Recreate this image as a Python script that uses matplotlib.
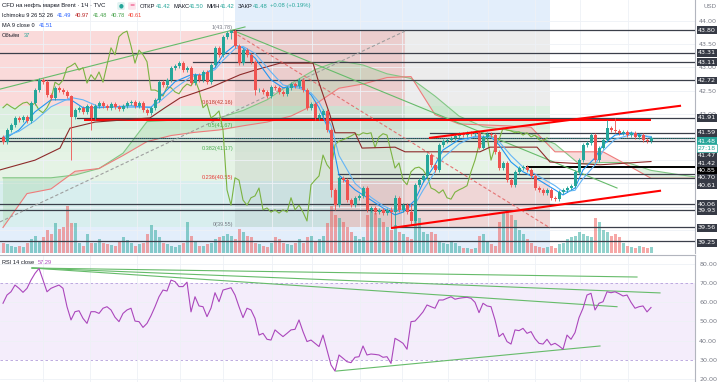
import numpy as np
import matplotlib.pyplot as plt
from matplotlib.patches import Rectangle

plt.rcParams['font.family'] = ['Liberation Sans', 'DejaVu Sans']

# ---- candles (1h), one close per bar, open = previous close
first_open = 41.50
closes = [41.39, 41.65, 41.76, 41.91, 41.87, 41.93, 41.85, 42.23, 42.51, 42.73,
          42.68, 42.41, 42.34, 42.56, 42.51, 42.47, 42.38, 41.93, 42.08, 42.13,
          42.04, 42.17, 41.91, 42.17, 42.23, 42.17, 42.13, 42.21, 42.15, 42.10,
          42.17, 42.23, 42.25, 42.17, 42.23, 42.08, 42.02, 42.13, 42.30, 42.68,
          42.62, 42.73, 42.99, 43.03, 43.09, 42.94, 42.99, 42.66, 42.84, 42.73,
          42.90, 42.68, 43.05, 43.42, 43.27, 43.66, 43.74, 43.78, 43.46, 43.09,
          43.37, 43.27, 43.12, 42.51, 42.51, 42.47, 42.38, 42.58, 42.56, 42.47,
          42.43, 42.56, 42.64, 42.60, 42.73, 42.51, 42.13, 42.21, 41.91, 41.97,
          42.06, 41.65, 40.36, 40.03, 40.62, 40.57, 40.14, 40.03, 40.19, 40.23,
          40.40, 39.93, 39.97, 39.88, 39.93, 39.86, 39.93, 39.88, 40.19, 39.93,
          40.03, 39.88, 39.69, 40.47, 40.57, 40.66, 41.11, 40.90, 40.79, 41.33,
          41.41, 41.44, 41.48, 41.52, 41.57, 41.54, 41.59, 41.57, 41.59, 41.27,
          41.50, 41.57, 41.54, 41.18, 40.83, 40.94, 40.57, 40.47, 40.75, 40.83,
          40.85, 40.79, 40.66, 40.40, 40.36, 40.29, 40.36, 40.19, 40.16, 40.31,
          40.36, 40.40, 40.45, 40.75, 41.00, 41.33, 41.37, 41.54, 41.00, 41.27,
          41.44, 41.69, 41.65, 41.63, 41.59, 41.61, 41.54, 41.59, 41.50, 41.54,
          41.44, 41.41, 41.48]
# bars with long shadows: index -> (high, low)
long_wicks = {17: (42.40, 41.00), 22: (42.20, 41.65), 57: (43.80, 43.60),
              63: (43.15, 42.40), 82: (41.70, 40.20), 83: (40.40, 39.93),
              97: (40.00, 39.55), 98: (40.25, 39.56), 102: (40.05, 39.60),
              151: (41.87, 41.40), 153: (41.91, 41.58)}

volumes = [60, 50, 40, 35, 40, 35, 55, 80, 100, 70,
           90, 130, 110, 170, 140, 150, 270, 170, 170, 60,
           40, 110, 55, 60, 80, 60, 50, 45, 40, 70,
           90, 75, 60, 40, 50, 60, 110, 160, 130, 90,
           60, 50, 40, 35, 45, 60, 180, 100, 70, 40,
           40, 50, 60, 80, 90, 100, 110, 100, 80, 140,
           120, 100, 90, 60, 50, 40, 35, 60, 90, 80,
           60, 50, 45, 60, 80, 60, 90, 100, 70, 80,
           100, 170, 270, 220, 200, 180, 150, 120, 100, 80,
           90, 220, 250, 230, 200, 180, 150, 130, 160, 120,
           110, 90, 80, 230, 200, 120, 110, 120, 110, 70,
           60, 50, 70, 60, 40, 30, 30, 25, 30, 100,
           110, 70, 50, 40, 180, 230, 240, 220, 190, 130,
           110, 80, 60, 40, 35, 30, 35, 40, 30, 50,
           60, 80, 90, 100, 120, 110, 100, 90, 200, 180,
           130, 120, 100, 110, 90, 60, 40, 35, 30, 40,
           35, 30, 37]

rsi = [59.5, 63.8, 65.5, 69.0, 67.3, 65.2, 67.3, 71.6, 75.1, 77.7,
       71.6, 65.5, 67.3, 68.2, 69.0, 67.3, 57.7, 50.8, 55.1, 55.6,
       51.6, 49.0, 55.1, 55.1, 54.2, 56.9, 57.7, 56.0, 52.2, 49.9,
       54.2, 56.0, 56.9, 50.2, 49.9, 46.9, 49.0, 53.0, 57.7, 62.9,
       66.4, 65.9, 71.6, 70.8, 68.2, 68.2, 70.5, 55.0, 62.9, 58.1,
       57.7, 52.5, 57.0, 65.0, 60.3, 66.4, 67.0, 67.6, 63.8, 57.7,
       52.0, 56.9, 56.0, 51.6, 42.9, 43.8, 40.7, 40.3, 45.6, 43.8,
       42.1, 43.8, 45.6, 45.9, 50.8, 44.7, 39.5, 40.3, 38.6, 36.9,
       42.9, 35.1, 27.3, 24.1, 32.5, 30.8, 29.0, 28.5, 31.3, 31.6,
       37.2, 32.5, 33.0, 32.8, 32.5, 31.3, 31.6, 28.1, 41.2, 40.0,
       38.6, 35.5, 49.9, 50.2, 52.5, 55.0, 58.6, 57.7, 56.9, 61.2,
       61.2, 62.1, 62.9, 61.6, 62.1, 62.4, 62.6, 62.1, 60.0, 54.6,
       59.5, 58.1, 57.7, 50.8, 42.1, 43.8, 39.5, 38.2, 45.6, 45.2,
       46.4, 43.8, 44.7, 41.0, 38.6, 38.2, 40.7, 37.7, 38.6, 37.2,
       35.5, 42.9, 40.7, 44.2, 52.0, 56.9, 63.8, 64.7, 56.0, 59.5,
       60.3, 65.5, 65.0, 65.5, 64.5, 63.3, 63.8, 60.0, 56.9, 57.7,
       58.1, 55.0, 57.3]

# ---- indicator lines (bar, price)
tenkan = [(0, 41.44), (4, 41.65), (8, 42.04), (12, 42.30), (17, 42.30), (20, 42.13),
          (24, 42.13), (32, 42.17), (37, 42.13), (39, 42.34), (43, 42.69), (47, 42.84),
          (50, 42.84), (53, 42.99), (55, 43.27), (58, 43.48), (60, 43.42), (63, 43.20),
          (67, 42.73), (70, 42.56), (74, 42.60), (77, 42.41), (79, 42.13), (82, 41.54),
          (84, 40.68), (88, 40.36), (92, 40.14), (95, 39.97), (98, 39.82), (100, 39.88),
          (103, 40.14), (105, 40.51), (108, 40.90), (110, 41.22), (114, 41.44), (118, 41.50),
          (122, 41.50), (124, 41.33), (127, 40.96), (130, 40.75), (134, 40.57), (138, 40.36),
          (140, 40.25), (143, 40.40), (145, 40.79), (148, 41.05), (150, 41.33), (153, 41.54),
          (157, 41.59), (162, 41.49)]
ma9 = [(0, 41.50), (4, 41.62), (8, 41.85), (12, 42.15), (17, 42.35), (20, 42.30),
       (24, 42.15), (32, 42.14), (37, 42.15), (39, 42.25), (43, 42.55), (47, 42.80),
       (50, 42.85), (53, 42.95), (55, 43.15), (58, 43.40), (60, 43.45), (63, 43.30),
       (67, 42.90), (70, 42.62), (74, 42.55), (77, 42.45), (79, 42.25), (82, 41.75),
       (84, 41.10), (88, 40.50), (92, 40.20), (95, 40.02), (98, 39.90), (100, 39.92),
       (103, 40.05), (105, 40.35), (108, 40.75), (110, 41.05), (114, 41.35), (118, 41.52),
       (122, 41.50), (124, 41.40), (127, 41.10), (130, 40.85), (134, 40.65), (138, 40.45),
       (140, 40.32), (143, 40.35), (145, 40.60), (148, 40.90), (150, 41.20), (153, 41.45),
       (157, 41.55), (162, 41.51)]
kijun = [(-0.75, 40.79), (8, 41.00), (14.25, 41.26), (16.75, 41.69), (23, 41.82),
         (36.75, 41.91), (40.5, 42.13), (44.25, 42.34), (51.75, 42.56), (59.25, 42.84),
         (63, 42.94), (69.25, 43.09), (77.5, 43.09), (78.75, 42.73), (81.75, 41.97),
         (83, 41.59), (88, 41.59), (89.75, 41.26), (98, 41.28), (100.5, 41.18),
         (119.25, 41.18), (121.75, 41.28), (133.5, 41.28), (136.75, 40.96),
         (149.25, 40.90), (162, 40.97)]
chikou_shift = 26

cloud_x = [0, 6, 12, 18, 24, 30, 36, 42, 48, 54, 60, 66, 72, 78, 84, 90, 96, 102,
           108, 114, 120, 126, 132, 138, 144, 150, 156, 162, 168, 173]
span_a = [40.62, 40.62, 40.62, 40.68, 40.82, 41.15, 41.83, 41.86, 41.88, 41.91,
          42.07, 42.30, 42.65, 42.95, 43.14, 43.05, 42.86, 42.76, 42.38, 41.95,
          41.72, 41.65, 41.56, 41.35, 40.92, 40.95, 40.95, 40.78, 40.70, 40.64]
span_b = [39.55, 40.28, 40.38, 40.76, 40.82, 41.10, 41.40, 41.53, 41.60, 41.65,
          41.74, 41.82, 41.95, 42.20, 42.55, 42.64, 42.78, 42.80, 41.98, 41.78,
          41.76, 41.74, 41.71, 41.18, 41.18, 41.18, 40.90, 40.61, 40.61, 40.61]

# ---- drawings
fib_levels = [43.78, 42.16, 41.67, 41.17, 40.55, 39.55]
fib_names = ['1(43.78)', '0.618(42.16)', '0.5(41.67)', '0.382(41.17)', '0.236(40.55)', '0(39.55)']
fib_text_colors = ['#787b86', '#c0392b', '#4caf50', '#4caf50', '#e53935', '#787b86']

h_levels = [43.80, 43.31, 43.11, 42.72, 41.91, 41.59, 41.47, 41.42, 40.85, 40.70, 40.61,
            40.06, 39.93, 39.56, 39.25]
h_start = [56.75, -1, 47.5, -1, 18.5, 106.75, -1, -1, 131, 83.75, 83.75, -1, -1, 97.5, -1]
h_label_at = [43.80, 43.31, 43.11, 42.72, 41.91, 41.59, 41.09, 40.92, 40.77, 40.62, 40.46,
              40.05, 39.91, 39.54, 39.22]
axis_ticks = [42.0, 42.5, 43.0, 43.5, 44.0]

red_hline = (20.5, 161.75, 41.87)
red_upper = [(106.75, 41.48), (169.25, 42.17)]
red_lower = [(97.25, 39.54), (164.25, 40.34)]
green_up = [(-0.75, 42.53), (60.5, 43.87)]
green_down = [(58.5, 43.76), (153.5, 40.40)]
gray_dash = [(-0.75, 39.67), (100.5, 43.78)]
pink_dash = [(57.5, 43.76), (136.75, 39.54)]

rsi_top_lines = [[(7.25, 77.9), (158.5, 73.2)], [(7.25, 77.9), (164.25, 64.9)],
                 [(7.25, 77.9), (153.5, 57.7)]]
rsi_low_line = [(83.25, 24.1), (149.25, 37.2)]
rsi_ticks = [20, 30, 40, 50, 60, 70, 80]

grid_x = [10, 21.75, 33.5, 44.25, 55, 67.25, 77.25, 89.25, 99.75, 111.25, 121.25, 133, 144.25, 156.25]

UP, DOWN = '#26a69a', '#ef5350'
GRIDC = '#eef1f6'
TXT = '#787b86'
DARK = '#131722'

fig = plt.figure(figsize=(7.2, 3.82), dpi=100)
fig.patch.set_facecolor('white')
x0, x1 = -0.75, 173.0
main_rect = [0, 0.3377, 0.9653, 0.6623]

# volume axes sits under the price axes and also holds the background zones
vax = fig.add_axes(main_rect)
ax = fig.add_axes(main_rect, sharex=vax)
ax.patch.set_visible(False)
ax.set_xlim(x0, x1)
ax.set_ylim(39.0, 44.45)
vax.set_ylim(0, 1450)
vax.set_yticks([])

T = ax.transData


def zone(xa, xb, ya, yb, color, alpha=1.0):
    vax.add_patch(Rectangle((xa, ya), xb - xa, yb - ya, transform=T, facecolor=color,
                            edgecolor='none', alpha=alpha, zorder=0.5))


xr = 136.75
zone(58, xr, 43.78, 44.45, '#e3eefb')
zone(x0, xr, 39.0, 39.55, '#e3eefb')
zone(x0, 100.5, 42.16, 43.78, '#fadada')
zone(100.5, xr, 42.16, 43.78, '#ececec')
zone(x0, xr, 41.67, 42.16, '#dcefe0')
zone(x0, xr, 41.17, 41.67, '#e2f2e3')
zone(x0, xr, 40.55, 41.17, '#e5f3e5')
zone(x0, 82.5, 39.55, 40.55, '#d8eeee')
zone(82.5, xr, 39.55, 40.55, '#efd6d6')
zone(58, 100.5, 39.55, 43.78, '#000000', 0.06)

for gx in grid_x:
    vax.axvline(gx, color=GRIDC, lw=0.6, zorder=0.8)
for gy in np.arange(39.5, 44.01, 0.5):
    vax.plot([x0, x1], [gy, gy], transform=T, color=GRIDC, lw=0.6, zorder=0.8)

# volume
vopen = [first_open] + closes[:-1]
bars = np.arange(len(closes))
vcol = [(0.149, 0.651, 0.604, 0.5) if c >= o else (0.937, 0.325, 0.314, 0.5)
        for o, c in zip(vopen, closes)]
vax.bar(bars, volumes, width=0.75, color=vcol, zorder=2)

# ichimoku cloud
a_arr, b_arr = np.array(span_a), np.array(span_b)
ax.fill_between(cloud_x, span_a, span_b, where=a_arr >= b_arr,
                interpolate=True, color='#a5d6a7', alpha=0.35, lw=0, zorder=1)
ax.fill_between(cloud_x, span_a, span_b, where=a_arr < b_arr,
                interpolate=True, color='#ef9a9a', alpha=0.35, lw=0, zorder=1)
ax.plot(cloud_x, span_a, color='#81c784', lw=0.8, zorder=2)
ax.plot(cloud_x, span_b, color='#ef7b7b', lw=0.8, zorder=2)

# horizontal levels
for lv, st in zip(h_levels, h_start):
    lw = 1.4 if lv == 40.85 else 0.9
    col = '#000000' if lv == 40.85 else '#3b3f4a'
    ax.plot([st, x1], [lv, lv], color=col, lw=lw, zorder=3)

# fib labels
for lv, name, c in zip(fib_levels, fib_names, fib_text_colors):
    ax.text(57.5, lv + 0.02, name, fontsize=4.0, color=c, ha='right', va='bottom', zorder=4)

# trend lines
ax.plot(*zip(*green_up), color='#66bb6a', lw=0.8, zorder=3)
ax.plot(*zip(*green_down), color='#66bb6a', lw=0.8, zorder=3)
ax.plot(*zip(*gray_dash), color='#9e9e9e', lw=0.8, ls=(0, (3, 2)), zorder=3)
ax.plot(*zip(*pink_dash), color='#e57373', lw=0.8, ls=(0, (3, 2)), zorder=3)
ax.plot([red_hline[0], red_hline[1]], [red_hline[2], red_hline[2]], color='#ff0000', lw=1.4, zorder=3)
ax.plot(*zip(*red_upper), color='#ff0000', lw=1.5, zorder=6, clip_on=False)
ax.plot(*zip(*red_lower), color='#ff0000', lw=1.5, zorder=6)

# ichimoku / ma lines
ax.plot(bars[:-chikou_shift], closes[chikou_shift:], color='#7cb342', lw=0.8, zorder=4)
ax.plot(*zip(*kijun), color='#8d2a2a', lw=0.8, zorder=4)
ax.plot(*zip(*tenkan), color='#2196f3', lw=0.8, zorder=4)
ax.plot(*zip(*ma9), color='#64b5f6', lw=0.8, zorder=4)

# candles
for i, (o, c) in enumerate(zip(vopen, closes)):
    col = UP if c >= o else DOWN
    hi, lo = long_wicks.get(i, (max(o, c) + 0.04, min(o, c) - 0.04))
    ax.vlines(i, lo, hi, color=col, lw=0.6, zorder=5)
    body = max(abs(c - o), 0.012)
    ax.bar(i, body, bottom=min(o, c), width=0.75, color=col, zorder=5)

# price scale
ax.yaxis.tick_right()
ax.set_yticks(axis_ticks)
ax.set_yticklabels([f'{v:.2f}' for v in axis_ticks])
ax.tick_params(axis='y', length=0, labelsize=4.6, labelcolor=TXT, pad=3)
ax.tick_params(axis='x', bottom=False, labelbottom=False)
vax.tick_params(axis='x', bottom=False, labelbottom=False)
for a in (ax, vax):
    for s in a.spines.values():
        s.set_visible(False)
ax.spines['right'].set_visible(True)
ax.spines['right'].set_color('#b2b5be')
ax.spines['right'].set_linewidth(0.8)

ytr = ax.get_yaxis_transform()
box_kw = dict(transform=ytr, fontsize=4.6, ha='left', va='center', clip_on=False,
              family='DejaVu Sans')
for lv, ly in zip(h_levels, h_label_at):
    fc = '#000000' if lv == 40.85 else '#363a45'
    ax.text(1.004, ly, f'{lv:.2f}', color='white', zorder=10,
            bbox=dict(boxstyle='square,pad=0.2', fc=fc, ec='none'), **box_kw)
ax.text(1.004, 41.41, '41.48', color='white', zorder=11,
        bbox=dict(boxstyle='square,pad=0.2', fc=UP, ec='none'), **box_kw)
ax.text(1.004, 41.26, '27:18', color=UP, zorder=11,
        bbox=dict(boxstyle='square,pad=0.2', fc='white', ec=UP, lw=0.5), **box_kw)
ax.plot([0, x1], [41.48, 41.48], color=UP, lw=0.6, ls=(0, (1, 1.5)), zorder=3)
ax.text(1.012, 0.985, 'USD', transform=ax.transAxes, fontsize=4.4, color=TXT, ha='left',
        va='top', clip_on=False)

# legend lines, laid out left to right
renderer = fig.canvas.get_renderer()


def text_row(items, x_px, y_px, size=4.1):
    x = x_px
    for s, c, gap in items:
        t = fig.text(x / 720, 1 - y_px / 382, s, fontsize=size, color=c, va='center')
        x = t.get_window_extent(renderer).x1 + gap


text_row([('CFD на нефть марки Brent · 1Ч · TVC', DARK, 0)], 2, 6, 4.3)
fig.text(121 / 720, 1 - 6 / 382, '●', fontsize=4.0, color=UP, va='center', ha='center',
         family='DejaVu Sans',
         bbox=dict(boxstyle='round,pad=0.25', fc='#e0f2f1', ec='none'))
fig.text(132 / 720, 1 - 6 / 382, '=', fontsize=4.5, color='#e91e63', va='center', ha='center',
         family='DejaVu Sans',
         bbox=dict(boxstyle='round,pad=0.2', fc='#fce4ec', ec='none'))
text_row([('ОТКР', DARK, 0), ('41.42', UP, 3), ('МАКС', DARK, 0), ('41.50', UP, 3),
          ('МИН', DARK, 0), ('41.42', UP, 3), ('ЗАКР', DARK, 0), ('41.48', UP, 2),
          ('+0.08 (+0.19%)', UP, 0)], 140, 6, 4.2)
text_row([('Ichimoku 9 26 52 26', DARK, 4), ('41.49', '#2962ff', 3.5), ('40.97', '#b71c1c', 3.5),
          ('41.48', '#43a047', 3.5), ('40.78', '#43a047', 3.5), ('40.61', '#f44336', 0)], 2, 15.5)
text_row([('MA 9 close 0', DARK, 4), ('41.51', '#2962ff', 0)], 2, 25.5)
text_row([('Объём', DARK, 4), ('37', UP, 0)], 2, 35.5)

# RSI pane
rax = fig.add_axes([0, 0, 0.9653, 0.3325], sharex=vax)
rax.set_xlim(x0, x1)
rax.set_ylim(18.4, 84.7)
rax.axhspan(30, 70, color='#9c4fd8', alpha=0.1, lw=0)
for lv in (70, 30):
    rax.axhline(lv, color='#b39ddb', lw=0.6, ls=(0, (3, 3)))
for lv in (80, 60, 50, 40, 20):
    rax.axhline(lv, color=GRIDC, lw=0.6)
for gx in grid_x:
    rax.axvline(gx, color=GRIDC, lw=0.6)
for ln in rsi_top_lines:
    rax.plot(*zip(*ln), color='#66bb6a', lw=0.8)
rax.plot(*zip(*rsi_low_line), color='#66bb6a', lw=0.8)
rax.plot(bars, rsi, color='#ab47bc', lw=0.8)
rax.yaxis.tick_right()
rax.set_yticks(rsi_ticks)
rax.set_yticklabels([f'{v:.2f}' for v in rsi_ticks], family='DejaVu Sans')
rax.tick_params(axis='y', length=0, labelsize=4.6, labelcolor=TXT, pad=3)
rax.tick_params(axis='x', bottom=False, labelbottom=False)
for s in rax.spines.values():
    s.set_visible(False)
for side in ('right', 'top'):
    rax.spines[side].set_visible(True)
    rax.spines[side].set_color('#b2b5be')
    rax.spines[side].set_linewidth(0.8)
ax.set_yticklabels([f'{v:.2f}' for v in axis_ticks], family='DejaVu Sans')

rrow = fig.text(2 / 720, 1 - 262 / 382, 'RSI 14 close', fontsize=4.1, color=DARK, va='center')
fig.text((rrow.get_window_extent(renderer).x1 + 4) / 720, 1 - 262 / 382, '57.29',
         fontsize=4.1, color='#ab47bc', va='center')

fig.savefig('out.png', dpi=100)
